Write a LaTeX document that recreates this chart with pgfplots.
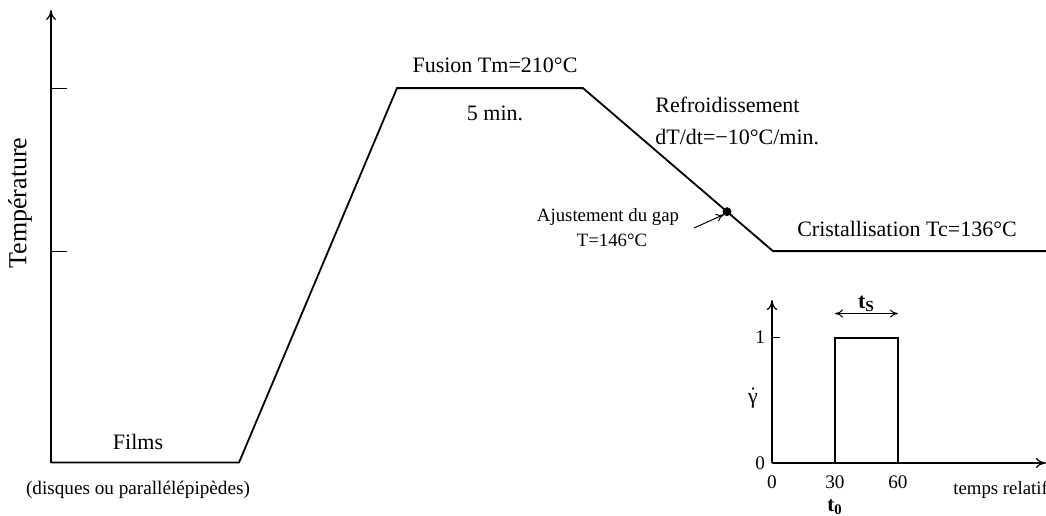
\documentclass[border=0pt]{standalone}
\usepackage{pgfplots}
\pgfplotsset{compat=1.18}
\usetikzlibrary{arrows.meta}
\usepackage{fontspec}
\setmainfont{Liberation Serif}
\tikzset{big/.style={font=\fontsize{11}{13}\selectfont},
         small/.style={font=\fontsize{9.4}{11}\selectfont}}
\begin{document}
\begin{tikzpicture}[x=1pt,y=1pt]
% main axis: x = time (arbitrary units), y = temperature (degC)
\begin{axis}[
  at={(0pt,0pt)}, anchor=south west,
  scale only axis, width=523pt, height=257.5pt,
  xmin=0, xmax=1046, ymin=16.2, ymax=250,
  hide axis, clip=false]
  % y axis with arrow and two ticks
  \draw[line width=0.6pt,-{To[length=5pt,width=5pt]}] (axis cs:51,40) -- (axis cs:51,245.5);
  \draw[line width=0.6pt] (axis cs:51,210) -- (axis cs:67,210);
  \draw[line width=0.6pt] (axis cs:51,136) -- (axis cs:67,136);
  % temperature profile
  \addplot[black, line width=0.9pt, mark=none] coordinates {
    (51,40) (239,40) (397,210) (583,210) (773,136) (1046,136)};
  % gap adjustment point
  \addplot[only marks, mark=*, mark size=2pt, black] coordinates {(727,153.9)};
  \draw[line width=0.5pt,-{To[length=4pt,width=4pt]}] (axis cs:694,146.5) -- (axis cs:724,152.6);
  \node[big] at (axis cs:495,220.5) {Fusion Tm=210°C};
  \node[big] at (axis cs:495,198.7) {5 min.};
  \node[big,anchor=west,inner sep=0pt] at (axis cs:655,202.3) {Refroidissement};
  \node[big,anchor=west,inner sep=0pt] at (axis cs:655,187.8) {dT/dt=−10°C/min.};
  \node[small] at (axis cs:608,151.5) {Ajustement du gap};
  \node[small] at (axis cs:612,141.0) {T=146°C};
  \node[big] at (axis cs:907,146.0) {Cristallisation Tc=136°C};
  \node[big] at (axis cs:138,49.3) {Films};
  \node[font=\fontsize{9.6}{11}\selectfont] at (axis cs:138,27.5) {(disques ou parallélépipèdes)};
  \node[rotate=90,font=\fontsize{13}{15}\selectfont] at (axis cs:20,157.8) {Température};
\end{axis}
% inset: shear rate pulse
\begin{axis}[
  at={(386pt,26pt)}, anchor=south west,
  scale only axis, width=137pt, height=81.5pt,
  xmin=0, xmax=130.5, ymin=0, ymax=1.3,
  axis lines=left, clip=false,
  axis line style={line width=0.6pt,-{To[length=5pt,width=5pt]}},
  xtick={0,30,60}, ytick={1},
  extra y ticks={0}, extra y tick style={major tick length=0pt},
  xtick style={draw=none},
  major tick length=4pt, tick style={line width=0.6pt, black},
  ytick pos=left, tick align=inside,
  /pgf/number format/assume math mode=true,
  ticklabel style={font=\fontsize{9.6}{11}\selectfont},
  xticklabel style={yshift=-3pt}]
  \addplot[black, line width=0.9pt, mark=none] coordinates {
    (30,0) (30,1) (60,1) (60,0)};
  \draw[line width=0.5pt,{To[length=4pt,width=4pt]}-{To[length=4pt,width=4pt]}] (axis cs:30,1.192) -- (axis cs:60,1.192);
  \node[big] at (axis cs:45,1.27) {\textbf{t\textsubscript{S}}};
  \node[font=\fontsize{10.5}{12}\selectfont] at (axis cs:30,-0.35) {\textbf{t\textsubscript{0}}};
  \node[small,anchor=west,inner sep=0pt] at (axis cs:86.2,-0.216) {temps relatif};
  \node[font=\fontsize{11}{13}\selectfont] at (axis cs:-9,0.52) {$\dot{\hbox{γ}}$};
\end{axis}
\pgfresetboundingbox
\path (0,0) rectangle (523pt,257.5pt);
\end{tikzpicture}
\end{document}
